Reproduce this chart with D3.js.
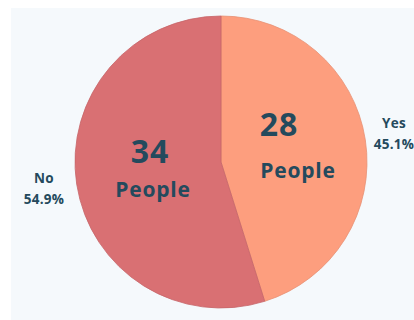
<!DOCTYPE html>
<html>
<head>
<meta charset="utf-8">
<script src="https://cdn.jsdelivr.net/npm/d3@7"></script>
<style>
  html, body { margin: 0; padding: 0; background: #ffffff; }
  svg { display: block; }
</style>
</head>
<body>
<svg id="chart" width="414" height="320"></svg>
<script>
// Survey answers
const categories = ["Yes", "No"];
const counts = [28, 34];
const percents = ["45.1%", "54.9%"];
const unitLabel = "People";
const colors = ["#fd9e7e", "#d97073"];

const W = 414, H = 320;
const cx = 221, cy = 162, R = 146;
const ink = "#244a5d";
const font = "'Open Sans', sans-serif";

const svg = d3.select("#chart");

// light panel behind the chart
svg.append("rect")
  .attr("x", 11).attr("y", 8)
  .attr("width", W - 11).attr("height", H - 8)
  .attr("fill", "#f5f9fc");

const data = categories.map((c, i) => ({ name: c, value: counts[i], pct: percents[i], color: colors[i] }));

const pie = d3.pie().value(d => d.value).sort(null);
const arcs = pie(data);
const arc = d3.arc().innerRadius(0).outerRadius(R);

const g = svg.append("g").attr("transform", `translate(${cx},${cy})`);

g.selectAll("path.slice")
  .data(arcs)
  .join("path")
  .attr("class", "slice")
  .attr("d", arc)
  .attr("fill", d => d.data.color)
  .attr("stroke", d => d3.color(d.data.color).darker(0.25))
  .attr("stroke-width", 0.8);

// value labels inside the slices
const inner = {
  Yes: { num: [58, -26], unit: [77, 16] },
  No:  { num: [-71, 1],  unit: [-68, 35] }
};

arcs.forEach(a => {
  const p = inner[a.data.name];
  g.append("text")
    .attr("x", p.num[0]).attr("y", p.num[1])
    .attr("text-anchor", "middle")
    .attr("font-family", font).attr("font-weight", 700)
    .attr("font-size", 32).attr("letter-spacing", 1).attr("fill", ink)
    .text(a.data.value);
  g.append("text")
    .attr("x", p.unit[0]).attr("y", p.unit[1])
    .attr("text-anchor", "middle")
    .attr("font-family", font).attr("font-weight", 700)
    .attr("font-size", 21).attr("letter-spacing", 0.8).attr("fill", ink)
    .text(unitLabel);
});

// category + percent labels outside the pie
const outer = {
  Yes: [394, 128],
  No:  [44, 183]
};
arcs.forEach(a => {
  const [x, y] = outer[a.data.name];
  const t = svg.append("text")
    .attr("text-anchor", "middle")
    .attr("font-family", font).attr("font-weight", 700)
    .attr("font-size", 13.5).attr("letter-spacing", 0.3).attr("fill", ink);
  t.append("tspan").attr("x", x).attr("y", y).text(a.data.name);
  t.append("tspan").attr("x", x).attr("y", y + 21).text(a.data.pct);
});
</script>
</body>
</html>
